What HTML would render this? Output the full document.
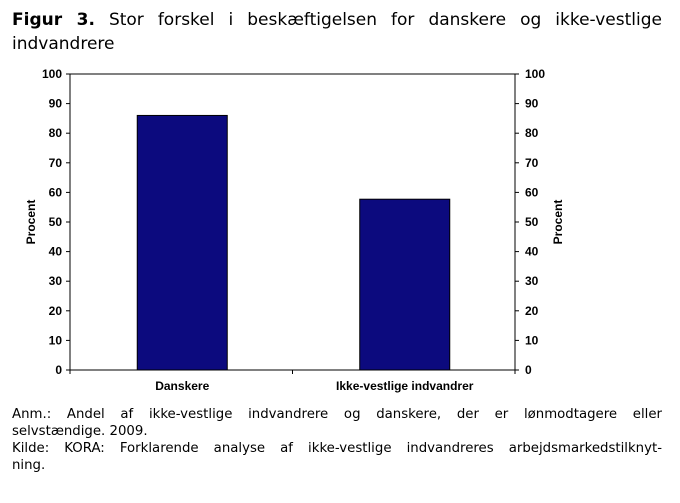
<!DOCTYPE html>
<html><head><meta charset="utf-8"><style>
body{margin:0;width:680px;height:503px;background:#fff;overflow:hidden;font-family:"DejaVu Sans","Liberation Sans",sans-serif;}
#title{position:absolute;left:12px;top:8px;width:650px;font-size:17px;line-height:24px;text-align:justify;text-align-last:left;color:#000;}
#notes{position:absolute;left:12px;top:406px;width:650px;font-size:13.3px;line-height:17px;color:#000;}
.j{text-align:justify;text-align-last:justify;white-space:nowrap;}
svg{position:absolute;left:0;top:0;}
svg text{font-family:"Liberation Sans",Arial,sans-serif;font-weight:bold;font-size:12px;fill:#000;}
</style></head><body>
<div id="title"><b>Figur 3.</b> Stor forskel i beskæftigelsen for danskere og ikke-vestlige indvandrere</div>
<svg id="chart" width="680" height="503"></svg>
<div id="notes">
<div class="j">Anm.: Andel af ikke-vestlige indvandrere og danskere, der er lønmodtagere eller</div>
<div>selvstændige. 2009.</div>
<div class="j">Kilde: KORA: Forklarende analyse af ikke-vestlige indvandreres arbejdsmarkedstilknyt-</div>
<div>ning.</div>
</div>
<script>
const categories=["Danskere","Ikke-vestlige indvandrer"];
const values=[86,57.7];
const ticks=[0,10,20,30,40,50,60,70,80,90,100];
const svg=document.getElementById('chart');
const NS='http://www.w3.org/2000/svg';
const L=70,R=515,T=74,B=370;
function y(v){return B-(v/100)*(B-T);}
function x(i){return L+(i+0.5)*(R-L)/categories.length;}
function mk(t,a,txt){const e=document.createElementNS(NS,t);for(const k in a)e.setAttribute(k,a[k]);if(txt!==undefined)e.textContent=txt;svg.appendChild(e);return e;}
const bw=90;
values.forEach((v,i)=>{
 const r=mk('rect',{x:x(i)-bw/2+1,y:y(v),width:bw,height:B-y(v),fill:'#0c0a7e',stroke:'#000','stroke-width':1});
 
 
 const t=mk('text',{x:x(i)+1,y:B+20,'text-anchor':'middle'},categories[i]);
 
 
});
const ax=mk('path',{d:`M${L} ${T}H${R}M${L} ${T}V${B}M${R} ${T}V${B}M${L} ${B}H${R}`,stroke:'#000','stroke-width':1,fill:'none'});


ticks.forEach(tv=>{
 mk('line',{x1:L-4,x2:L,y1:y(tv),y2:y(tv),stroke:'#000'});
 mk('line',{x1:R,x2:R+4,y1:y(tv),y2:y(tv),stroke:'#000'});
 const a=mk('text',{x:L-8,y:y(tv)+4,'text-anchor':'end'},tv);
 
 
 const b=mk('text',{x:R+10,y:y(tv)+4,'text-anchor':'start'},tv);
 
 
});
for(let i=0;i<=categories.length;i++){const xx=L+i*(R-L)/categories.length;mk('line',{x1:xx,x2:xx,y1:B,y2:B+4,stroke:'#000'});}
const yl=mk('text',{transform:`translate(35,${(T+B)/2}) rotate(-90)`,'text-anchor':'middle'},'Procent');


const yr=mk('text',{transform:`translate(562,${(T+B)/2}) rotate(-90)`,'text-anchor':'middle'},'Procent');


</script>
</body></html>
